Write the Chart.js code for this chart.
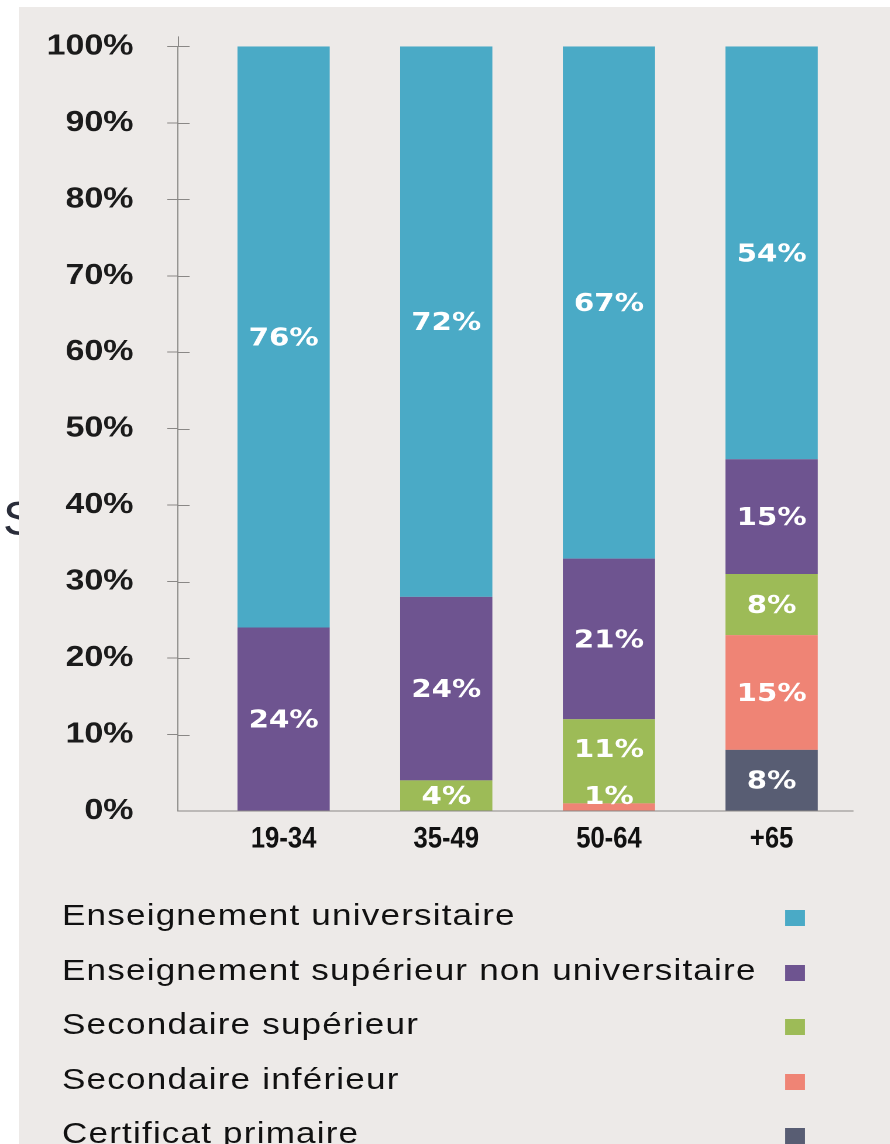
<!DOCTYPE html>
<html>
<head>
<meta charset="utf-8">
<script src="https://cdn.jsdelivr.net/npm/chart.js@4.4.1/dist/chart.umd.min.js"></script>
<style>
  body { margin: 0; width: 890px; height: 1144px; background: #fff; overflow: hidden; position: relative; }
  #ghost { position: absolute; left: 3px; top: 490px; font: 49px "Liberation Sans", Arial, sans-serif; color: #2a2d3a; }
  #panel { position: absolute; left: 19px; top: 7px; right: 0; bottom: 0; background: #edeae8; }
  #wrap { position: absolute; left: 0; top: 0; width: 761px; height: 1144px; transform: scaleX(1.17); transform-origin: 0 0; }
  #chart { position: absolute; left: 0; top: 0; }
  #legend { position: absolute; left: 0; top: 888px; width: 761px; }
  .row { position: relative; height: 54.5px; }
  .row span { position: absolute; left: 53px; top: 0; font: 30px "Liberation Sans", Arial, sans-serif; line-height: 54.5px; letter-spacing: 1px; color: #111; white-space: nowrap; }
  .row i { position: absolute; left: 671px; top: 22px; width: 17px; height: 16px; }
</style>
</head>
<body>
<div id="ghost">S</div>
<div id="panel"></div>
<div id="wrap">
  <canvas id="chart" width="761" height="880"></canvas>
  <div id="legend"></div>
</div>
<script>
// age groups on the x axis
const ageGroups = ["19-34", "35-49", "50-64", "+65"];

// series, listed in legend order (top of the stack first)
const seriesNames = [
    "Enseignement universitaire",
    "Enseignement supérieur non universitaire",
    "Secondaire supérieur",
    "Secondaire inférieur",
    "Certificat primaire"
];
const universitaire = [76, 72, 67, 54];
const superieurNonUniv = [24, 24, 21, 15];
const secondaireSup = [0, 4, 11, 8];
const secondaireInf = [0, 0, 1, 15];
const certificatPrimaire = [0, 0, 0, 8];
const seriesColors = ["#4aaac6", "#6e5490", "#9dbb57", "#ef8475", "#585d73"];

const yMax = 100;
const yStep = 10;

const seriesValues = [universitaire, superieurNonUniv, secondaireSup, secondaireInf, certificatPrimaire];
const axisColor = "#8a8886";

// bottom of the stack is the first dataset, so go through the series backwards
const datasets = seriesNames.map((name, i) => ({
    label: name,
    data: seriesValues[i].map((v, j) => ({ x: j, y: v })),
    backgroundColor: seriesColors[i],
    borderWidth: 0,
    categoryPercentage: 1,
    barPercentage: 0.567
})).reverse();

// legend below the chart
const legend = document.getElementById("legend");
seriesNames.forEach((name, i) => {
    const row = document.createElement("div");
    row.className = "row";
    row.innerHTML = `<span>${name}</span><i style="background:${seriesColors[i]}"></i>`;
    legend.appendChild(row);
});

const barLabels = {
    id: "barLabels",
    afterDatasetsDraw(chart) {
        const ctx = chart.ctx;
        ctx.save();
        ctx.font = "bold 25px 'DejaVu Sans', sans-serif";
        ctx.fillStyle = "#ffffff";
        ctx.textAlign = "center";
        ctx.textBaseline = "middle";
        ageGroups.forEach((g, j) => {
            let lastY = Infinity;
            chart.data.datasets.forEach((ds, i) => {
                const v = ds.data[j].y;
                if (!v) return;
                const bar = chart.getDatasetMeta(i).data[j];
                let y = Math.min((bar.y + bar.base) / 2 + 2, bar.base - 13);
                y = Math.min(y, lastY - 47);
                lastY = y;
                ctx.fillText(v + "%", bar.x, y);
            });
        });
        ctx.restore();
    }
};

// condensed age labels under the bars, the axis a bit past 100%, tick stubs right of the y axis
const axisExtras = {
    id: "axisExtras",
    afterDraw(chart) {
        const { ctx, chartArea, scales } = chart;
        ctx.save();
        ctx.strokeStyle = axisColor;
        ctx.lineWidth = 1;
        ctx.beginPath();
        ctx.moveTo(chartArea.left + 0.5, chartArea.top - 10);
        ctx.lineTo(chartArea.left + 0.5, chartArea.top);
        scales.y.ticks.forEach(t => {
            if (t.value === 0) return;
            const py = Math.round(scales.y.getPixelForValue(t.value)) + 0.5;
            ctx.moveTo(chartArea.left, py);
            ctx.lineTo(chartArea.left + 10, py);
        });
        ctx.stroke();

        ctx.fillStyle = "#111";
        ctx.font = "bold 30px 'Liberation Sans', Arial, sans-serif";
        ctx.textAlign = "center";
        ctx.textBaseline = "middle";
        ageGroups.forEach((g, j) => {
            const px = scales.x.getPixelForValue(j);
            ctx.save();
            ctx.translate(px, chartArea.bottom + 28);
            ctx.scale(0.73, 1);
            ctx.fillText(g, 0, 0);
            ctx.restore();
        });
        ctx.restore();
    }
};

new Chart(document.getElementById("chart"), {
    type: "bar",
    data: { datasets },
    options: {
        responsive: false,
        animation: false,
        devicePixelRatio: 2,
        layout: { padding: { left: 0, right: 32, top: 45, bottom: 19 } },
        plugins: { legend: { display: false }, tooltip: { enabled: false } },
        scales: {
            x: {
                type: "linear",
                stacked: true,
                offset: false,
                min: -0.65,
                max: 3.5,
                afterFit: s => { s.height = 50; },
                afterBuildTicks: s => { s.ticks = ageGroups.map((g, j) => ({ value: j })); },
                grid: { display: false, drawTicks: false, offset: false },
                border: { display: true, color: axisColor, width: 1 },
                ticks: { display: false }
            },
            y: {
                stacked: true,
                min: 0,
                max: yMax,
                afterFit: s => { s.width = 152; },
                grid: {
                    drawOnChartArea: false,
                    drawTicks: true,
                    tickLength: 9,
                    color: c => (c.tick && c.tick.value === 0 ? "rgba(0,0,0,0)" : axisColor)
                },
                border: { display: true, color: axisColor, width: 1 },
                ticks: {
                    stepSize: yStep,
                    padding: 29,
                    color: "#1b1b1b",
                    font: { family: "'Liberation Sans', Arial, sans-serif", weight: "bold", size: 29 },
                    callback: v => v + "%"
                }
            }
        }
    },
    plugins: [barLabels, axisExtras]
});
</script>
</body>
</html>
